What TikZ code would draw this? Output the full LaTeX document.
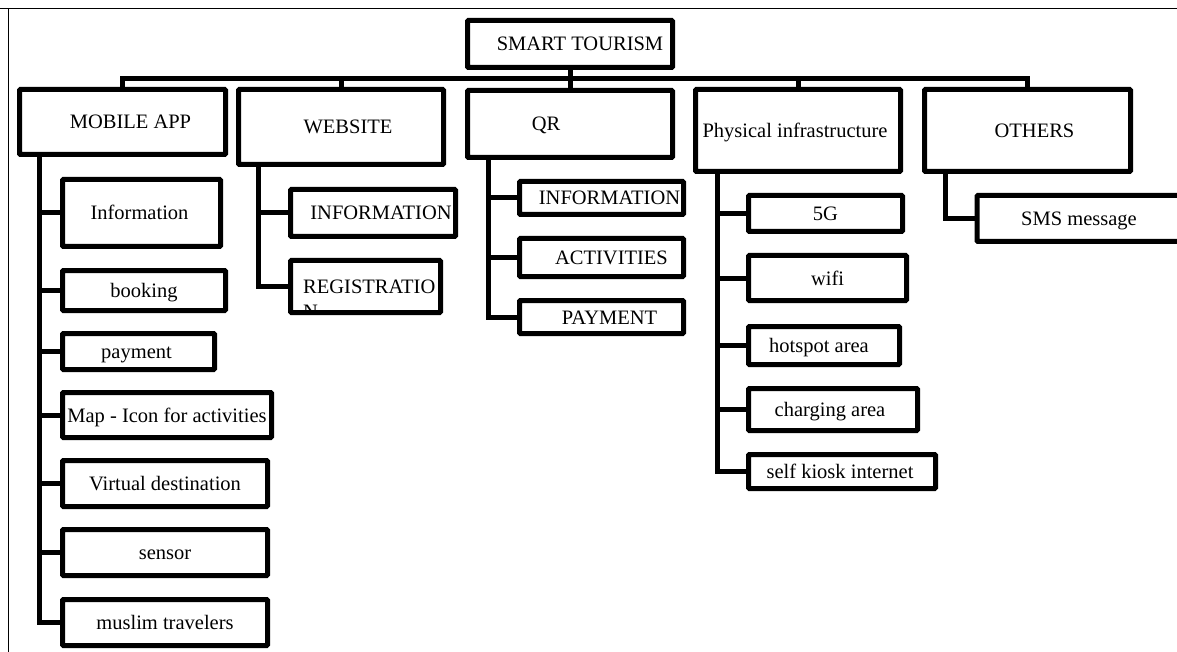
\documentclass[tikz,border=0pt]{standalone}
\usepackage{fontspec}
\setmainfont{Liberation Serif}
\tikzset{
  box/.style={draw=black, line width=5pt, rectangle, rounded corners=1pt, inner sep=0pt, fill=white},
  lbl/.style={anchor=base, inner sep=0pt, font=\fontsize{20.5}{25}\selectfont},
  conn/.style={draw=black, line width=5pt, line join=miter},
  frameline/.style={draw=black, line width=1.4pt}
}
\newcommand\drawbox[7]{%
  \node[box, minimum width={#4-#2-5}, minimum height={#5-#3-5}] (#1) at ({(#2+#4)/2},{-(#3+#5)/2}) {};
  \node[lbl] (#1t) at ({(#2+#4)/2+#6},{-(#3+#5)/2-7}) {#7};}
\begin{document}
\begin{tikzpicture}[x=1pt,y=1pt]
\useasboundingbox (0,0) rectangle (1177,-652);
\fill[white] (0,0) rectangle (1177,-652);
\clip (0,0) rectangle (1177,-652);
% outer frame
\coordinate (fTL) at (0,-8.5);
\coordinate (fTR) at (1177,-8.5);
\coordinate (fL1) at (8.5,-8.5);
\coordinate (fL2) at (8.5,-652);
\draw[frameline] (fTL) -- (fTR);
\draw[frameline] (fL1) -- (fL2);
% boxes
\drawbox{root}{465}{18}{675}{70}{10}{SMART TOURISM}
\drawbox{mob}{17}{87}{228}{157}{8}{MOBILE APP}
\drawbox{web}{236}{87}{446}{167}{7}{WEBSITE}
\drawbox{qr}{465}{88}{675}{160}{-24}{QR}
\drawbox{phy}{693}{87}{903}{174}{-3}{Physical infrastructure}
\drawbox{oth}{922}{87}{1133}{174}{7}{OTHERS}
% mobile app children
\drawbox{info}{60}{177}{223}{249}{-2}{Information}
\drawbox{book}{60}{268}{228}{313}{0}{booking}
\drawbox{pay}{60}{331}{217}{372}{-2}{payment}
\drawbox{map}{60}{390}{274}{440}{0}{Map - Icon for activities}
\drawbox{virt}{60}{458}{270}{509}{0}{Virtual destination}
\drawbox{sens}{60}{527}{270}{578}{0}{sensor}
\drawbox{musl}{60}{597}{270}{648}{0}{muslim travelers}
% website children
\drawbox{winf}{288}{187}{458}{239}{8}{INFORMATION}
\node[box, minimum width=150, minimum height=52] (wreg) at (365.5,-286.5) {};
\begin{scope}
  \clip (293,-263) rectangle (438,-310);
  \node[anchor=base west, inner sep=0pt, font=\fontsize{20.5}{25}\selectfont] (wregt) at (303,-293) {REGISTRATIO};
  \node[anchor=base west, inner sep=0pt, font=\fontsize{20.5}{25}\selectfont] (wregn) at (303,-318) {N};
\end{scope}
% QR children
\drawbox{qinf}{517}{179}{686}{217}{8}{INFORMATION}
\drawbox{qact}{517}{236}{686}{279}{10}{ACTIVITIES}
\drawbox{qpay}{517}{298}{686}{336}{8}{PAYMENT}
% physical infrastructure children
\drawbox{g5}{746}{193}{905}{234}{0}{5G}
\drawbox{wifi}{746}{253}{909}{303}{0}{wifi}
\drawbox{hot}{746}{324}{902}{367}{-5}{hotspot area}
\drawbox{chg}{746}{386}{920}{433}{-3}{charging area}
\drawbox{kio}{746}{452}{938}{491}{-2}{self kiosk internet}
% others child
\node[box, minimum width=226, minimum height=46] (sms) at (1090,-218.5) {};
\node[lbl] (smst) at (1079,-225.5) {SMS message};
% bus
\coordinate (bus) at (0,-79);
\draw[conn] (mob.north) -- (mob.north |- bus) -- (oth.north |- bus) -- (oth.north);
\draw[conn] (web.north) -- (web.north |- bus);
\draw[conn] (phy.north) -- (phy.north |- bus);
\draw[conn] (root.south) -- (qr.north);
% spines
\foreach \c in {info,book,pay,map,virt,sens,musl}
  \draw[conn] ([xshift=22pt]mob.south west) |- (\c.west);
\foreach \c in {winf,wreg}
  \draw[conn] ([xshift=22pt]web.south west) |- (\c.west);
\foreach \c in {qinf,qact,qpay}
  \draw[conn] ([xshift=23pt]qr.south west) |- (\c.west);
\foreach \c in {g5,wifi,hot,chg,kio}
  \draw[conn] ([xshift=24pt]phy.south west) |- (\c.west);
\draw[conn] ([xshift=23pt]oth.south west) |- (sms.west);
\end{tikzpicture}
\end{document}
